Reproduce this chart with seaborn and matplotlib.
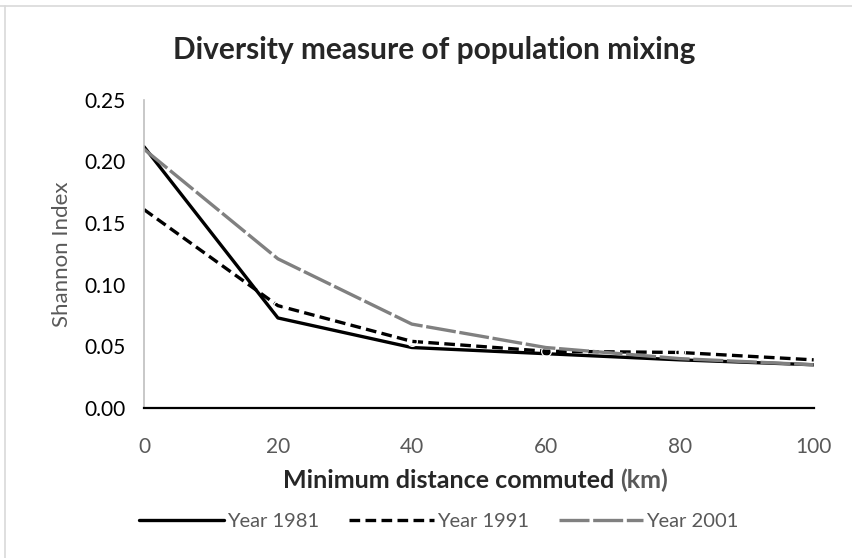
import matplotlib
matplotlib.use("Agg")
import matplotlib.pyplot as plt
from matplotlib.lines import Line2D
import seaborn as sns
import pandas as pd

# Data
distance = [0, 20, 40, 60, 80, 100]
year_1981 = [0.212, 0.073, 0.049, 0.044, 0.039, 0.035]
year_1991 = [0.161, 0.083, 0.054, 0.046, 0.045, 0.039]
year_2001 = [0.210, 0.121, 0.068, 0.049, 0.040, 0.035]
y_ticks = [0.00, 0.05, 0.10, 0.15, 0.20, 0.25]
series_names = ["Year 1981", "Year 1991", "Year 2001"]

sns.set_style("white")
plt.rcParams["font.family"] = ["Lato", "DejaVu Sans"]

text_grey = "#595959"

fig = plt.figure(figsize=(8.52, 5.58), dpi=100)
ax = fig.add_axes([0.169, 0.269, 0.786, 0.552])

df = pd.DataFrame({"distance": distance, "Year 1981": year_1981,
                   "Year 1991": year_1991, "Year 2001": year_2001})

sns.lineplot(data=df, x="distance", y="Year 1981", ax=ax, color="black",
             linewidth=2.4, label=series_names[0])
sns.lineplot(data=df, x="distance", y="Year 1991", ax=ax, color="black",
             linewidth=2.4, label=series_names[1], marker="o", markersize=7,
             markerfacecolor="none", markeredgecolor="white",
             markeredgewidth=0.9, markevery=[1, 2, 3, 4])
sns.lineplot(data=df, x="distance", y="Year 2001", ax=ax, color="#808080",
             linewidth=2.4, label=series_names[2])
lines = ax.get_lines()
lines[1].set_dashes([3.2, 1.6])
lines[2].set_dashes([9, 1.1])

ax.set_xlim(0, 100)
ax.set_ylim(0, 0.25)
ax.set_yticks(y_ticks)
ax.set_yticklabels([f"{v:.2f}" for v in y_ticks])
ax.set_xticks(distance)
ax.tick_params(axis="both", length=0, labelsize=15, colors=text_grey)
ax.tick_params(axis="x", pad=21)
ax.tick_params(axis="y", pad=13)
for lab in ax.get_yticklabels():
    lab.set_color("black")

for side in ["top", "right"]:
    ax.spines[side].set_visible(False)
ax.spines["left"].set_color("#bfbfbf")
ax.spines["left"].set_linewidth(1.2)
ax.spines["bottom"].set_color("black")
ax.spines["bottom"].set_linewidth(1.6)

ax.set_xlabel("")
ax.set_ylabel("Shannon Index", fontsize=16, color=text_grey, labelpad=9)

fig.text(0.51, 0.91, "Diversity measure of population mixing",
         ha="center", va="center", fontsize=21.5, fontweight="bold")

part1 = fig.text(283 / 852, 1 - 481 / 558, "Minimum distance commuted ",
                 ha="left", va="center", fontsize=18, fontweight="bold")
ax.annotate("(km)", xy=(1, 0), xycoords=part1, ha="left", va="bottom",
            fontsize=18, fontweight="bold", color=text_grey)

leg = ax.legend(loc="center", bbox_to_anchor=(439 / 852, 1 - 521 / 558),
                bbox_transform=fig.transFigure, ncol=3, frameon=False,
                fontsize=14.5, handlelength=4.2, columnspacing=1.5,
                labelcolor=text_grey, handletextpad=0.15)
for h in leg.get_lines():
    h.set_marker("None")

# light chart border at top and left edge
fig.add_artist(Line2D([0, 1], [1 - 6 / 558, 1 - 6 / 558], color="#d9d9d9",
                      linewidth=1.2, transform=fig.transFigure))
fig.add_artist(Line2D([5 / 852, 5 / 852], [0, 1 - 6 / 558], color="#d9d9d9",
                      linewidth=1.2, transform=fig.transFigure))

fig.savefig("out.png", dpi=100)
